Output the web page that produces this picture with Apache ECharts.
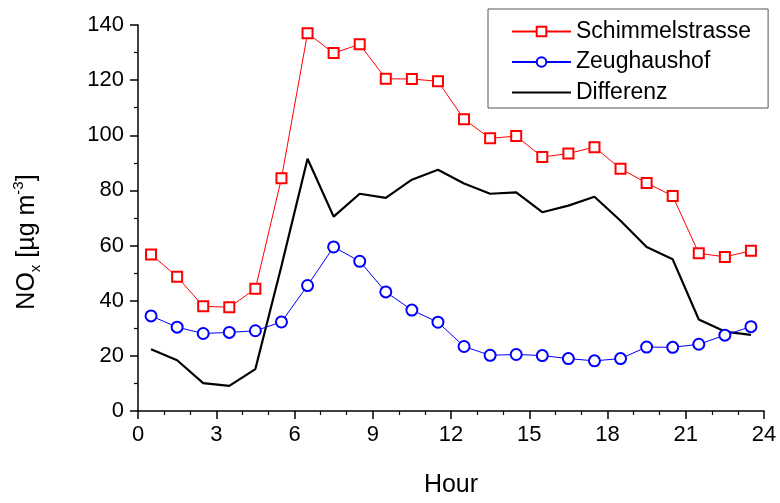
<!DOCTYPE html>
<html>
<head>
<meta charset="utf-8">
<script src="https://cdn.jsdelivr.net/npm/echarts@6/dist/echarts.min.js"></script>
<style>
  html, body { margin: 0; padding: 0; background: #fff; }
  #chart { width: 780px; height: 503px; }
</style>
</head>
<body>
<div id="chart"></div>
<script>
// hours of day (half-hour centred)
var hours = [0.5, 1.5, 2.5, 3.5, 4.5, 5.5, 6.5, 7.5, 8.5, 9.5, 10.5, 11.5,
  12.5, 13.5, 14.5, 15.5, 16.5, 17.5, 18.5, 19.5, 20.5, 21.5, 22.5, 23.5];

var schimmelstrasse = [56.8, 48.7, 38.0, 37.6, 44.3, 84.4, 137.0, 129.8, 133.0, 120.5, 120.4, 119.6,
  105.8, 98.9, 99.7, 92.1, 93.4, 95.7, 87.9, 82.7, 78.0, 57.2, 55.9, 58.1];

var zeughaushof = [34.5, 30.4, 28.1, 28.5, 29.1, 32.3, 45.5, 59.5, 54.3, 43.2, 36.6, 32.2,
  23.4, 20.2, 20.5, 20.1, 19.0, 18.2, 19.0, 23.2, 23.1, 24.2, 27.5, 30.6];

var differenz = [22.4, 18.4, 10.1, 9.1, 15.2, 52.6, 91.5, 70.5, 78.8, 77.3, 83.9, 87.5,
  82.5, 78.8, 79.3, 72.1, 74.5, 77.7, 69.0, 59.5, 55.0, 33.2, 28.8, 27.6];

var xTicks = [0, 3, 6, 9, 12, 15, 18, 21, 24];
var yTicks = [0, 20, 40, 60, 80, 100, 120, 140];

function pairs(ys) {
  return hours.map(function (h, i) { return [h, ys[i]]; });
}

var chart = echarts.init(document.getElementById("chart"));
var font = "Liberation Sans, Arial, sans-serif";

var option = {
  animation: false,
  backgroundColor: "#fff",
  grid: { left: 138, right: 16, top: 25, bottom: 88 },
  legend: {
    orient: "vertical",
    left: 488,
    top: 9,
    padding: [11, 17, 4, 23],
    itemWidth: 59,
    itemHeight: 12,
    itemGap: 7.5,
    borderColor: "#555",
    borderWidth: 1,
    textStyle: { fontFamily: font, fontSize: 23, color: "#000" },
    data: [
      "Schimmelstrasse",
      "Zeughaushof",
      { name: "Differenz", icon: "path://M0,0H59V2.2H0Z" }
    ]
  },
  xAxis: {
    type: "value",
    min: xTicks[0],
    max: xTicks[xTicks.length - 1],
    interval: 3,
    name: "Hour",
    nameLocation: "middle",
    nameGap: 62,
    nameTextStyle: { fontFamily: font, fontSize: 25, color: "#000" },
    axisLine: { onZero: false, lineStyle: { color: "#000", width: 1.5 } },
    axisTick: { length: 8, lineStyle: { color: "#000", width: 1.5 } },
    minorTick: { show: true, splitNumber: 3, length: 4, lineStyle: { color: "#000", width: 1.2 } },
    axisLabel: { fontFamily: font, fontSize: 22, color: "#000", margin: 13 },
    splitLine: { show: false }
  },
  yAxis: {
    type: "value",
    min: yTicks[0],
    max: yTicks[yTicks.length - 1],
    interval: 20,
    axisLine: { show: true, onZero: false, lineStyle: { color: "#000", width: 1.5 } },
    axisTick: { show: true, length: 8, lineStyle: { color: "#000", width: 1.5 } },
    minorTick: { show: true, splitNumber: 2, length: 4, lineStyle: { color: "#000", width: 1.2 } },
    axisLabel: { fontFamily: font, fontSize: 22, color: "#000", margin: 14 },
    splitLine: { show: false }
  },
  graphic: [{
    type: "text",
    x: 27,
    y: 242,
    rotation: Math.PI / 2,
    style: {
      text: "{a|NO}{sub|x}{a| [µg m}{sup|-3}{a|]}",
      align: "center",
      verticalAlign: "middle",
      fill: "#000",
      rich: {
        a: { fontFamily: font, fontSize: 25, lineHeight: 32, fill: "#000" },
        sub: { fontFamily: font, fontSize: 15, verticalAlign: "bottom", lineHeight: 15, fill: "#000" },
        sup: { fontFamily: font, fontSize: 15, verticalAlign: "top", lineHeight: 15, fill: "#000" }
      }
    }
  }],
  series: [
    {
      name: "Schimmelstrasse",
      type: "line",
      data: pairs(schimmelstrasse),
      symbol: "emptyRect",
      symbolSize: 10,
      color: "#ff0000",
      lineStyle: { color: "#ff0000", width: 1 },
      itemStyle: { color: "#ff0000", borderWidth: 1.4 },
      z: 3
    },
    {
      name: "Zeughaushof",
      type: "line",
      data: pairs(zeughaushof),
      symbol: "emptyCircle",
      symbolSize: 11,
      color: "#0000ff",
      lineStyle: { color: "#0000ff", width: 1 },
      itemStyle: { color: "#0000ff", borderWidth: 1.4 },
      z: 3
    },
    {
      name: "Differenz",
      type: "line",
      data: pairs(differenz),
      symbol: "none",
      color: "#000",
      lineStyle: { color: "#000", width: 2.2 },
      z: 2
    }
  ]
};

chart.setOption(option);
</script>
</body>
</html>
